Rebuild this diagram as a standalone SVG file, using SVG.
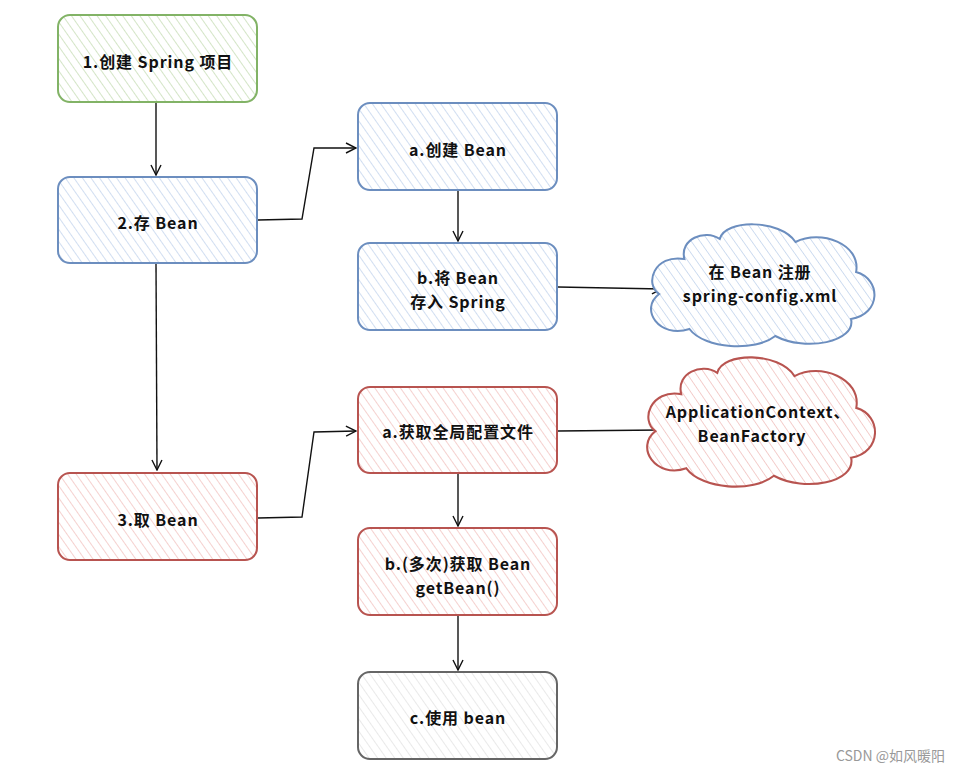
<svg xmlns="http://www.w3.org/2000/svg" width="959" height="774" viewBox="0 0 959 774">
<style>
.t{font-family:"Noto Sans CJK SC","Noto Sans",sans-serif;font-size:16px;font-weight:bold;fill:#111;text-anchor:middle;letter-spacing:0.9px}
.box{stroke-width:2}
.g{stroke:#82b366;fill:url(#hg)}
.b{stroke:#6c8ebf;fill:url(#hb)}
.r{stroke:#b85450;fill:url(#hr)}
.k{stroke:#666;fill:url(#hk)}
.c{fill:none;stroke:#111;stroke-width:1.4}
</style>
<defs>
<pattern id="hg" width="7" height="7" patternUnits="userSpaceOnUse" patternTransform="rotate(-35)"><rect width="7" height="7" fill="#fff"/><line x1="0" y1="0" x2="0" y2="7" stroke="#c6ddb5" stroke-width="1.5"/></pattern>
<pattern id="hb" width="7" height="7" patternUnits="userSpaceOnUse" patternTransform="rotate(-35)"><rect width="7" height="7" fill="#fff"/><line x1="0" y1="0" x2="0" y2="7" stroke="#c2d4ed" stroke-width="1.5"/></pattern>
<pattern id="hr" width="7" height="7" patternUnits="userSpaceOnUse" patternTransform="rotate(-35)"><rect width="7" height="7" fill="#fff"/><line x1="0" y1="0" x2="0" y2="7" stroke="#f2c2c0" stroke-width="1.5"/></pattern>
<pattern id="hk" width="7" height="7" patternUnits="userSpaceOnUse" patternTransform="rotate(-35)"><rect width="7" height="7" fill="#fff"/><line x1="0" y1="0" x2="0" y2="7" stroke="#e2e2e2" stroke-width="1.5"/></pattern>
<marker id="ah" viewBox="0 0 12 12" refX="11" refY="6" markerWidth="12" markerHeight="12" markerUnits="userSpaceOnUse" orient="auto"><path d="M1 1 L11 6 L1 11" fill="none" stroke="#111" stroke-width="1.4"/></marker>
<path id="cloud" d="M40 35 C10 30 0 60 15 70 C-5 85 15 115 45 105 C60 125 110 128 130 112 C160 128 210 118 205 95 C235 90 235 55 210 48 C215 20 175 5 150 18 C135 -5 80 -5 75 15 C60 5 35 15 40 35 Z"/>
</defs>
<rect width="959" height="774" fill="#fff"/>
<g id="connectors">
<path class="c" d="M156 102 L156 175" marker-end="url(#ah)"/>
<path class="c" d="M258 220 L302 219 L314 148 L356 148" marker-end="url(#ah)"/>
<path class="c" d="M458 190 L458 241" marker-end="url(#ah)"/>
<path class="c" d="M558 287 L662 289" marker-end="url(#ah)"/>
<path class="c" d="M156 263 L157 470" marker-end="url(#ah)"/>
<path class="c" d="M258 518 L302 517 L314 432 L356 431" marker-end="url(#ah)"/>
<path class="c" d="M558 431 L661 430" marker-end="url(#ah)"/>
<path class="c" d="M458 473 L458 526" marker-end="url(#ah)"/>
<path class="c" d="M458 615 L458 670" marker-end="url(#ah)"/>
</g>
<g id="n1"><rect class="box g" x="58" y="15" width="199" height="87" rx="12"/><text class="t" x="158" y="68">1.创建 Spring 项目</text></g>
<g id="n2"><rect class="box b" x="58" y="177" width="199" height="86" rx="12"/><text class="t" x="158" y="229">2.存 Bean</text></g>
<g id="na1"><rect class="box b" x="358" y="103" width="199" height="87" rx="12"/><text class="t" x="458" y="156">a.创建 Bean</text></g>
<g id="nb1"><rect class="box b" x="358" y="243" width="199" height="87" rx="12"/><text class="t" x="458" y="284">b.将 Bean</text><text class="t" x="458" y="308">存入 Spring</text></g>
<g id="cloud1"><use href="#cloud" class="box b" transform="translate(644 224) scale(1.01 1.0)"/><text class="t" x="760" y="278">在 Bean 注册</text><text class="t" x="760" y="302">spring-config.xml</text></g>
<g id="n3"><rect class="box r" x="58" y="473" width="199" height="87" rx="12"/><text class="t" x="158" y="526">3.取 Bean</text></g>
<g id="na2"><rect class="box r" x="358" y="387" width="199" height="86" rx="12"/><text class="t" x="458" y="438">a.获取全局配置文件</text></g>
<g id="cloud2"><use href="#cloud" class="box r" transform="translate(640 357) scale(1.03 1.06)"/><text class="t" x="758" y="418">ApplicationContext、</text><text class="t" x="752" y="442">BeanFactory</text></g>
<g id="nb2"><rect class="box r" x="358" y="528" width="199" height="87" rx="12"/><text class="t" x="458" y="570">b.(多次)获取 Bean</text><text class="t" x="458" y="594">getBean()</text></g>
<g id="nc"><rect class="box k" x="358" y="672" width="199" height="87" rx="12"/><text class="t" x="458" y="724">c.使用 bean</text></g>
<text x="945" y="761" style="font-family:'Noto Sans CJK SC','Noto Sans',sans-serif;font-size:14px;fill:#999;text-anchor:end">CSDN @如风暖阳</text>
</svg>
